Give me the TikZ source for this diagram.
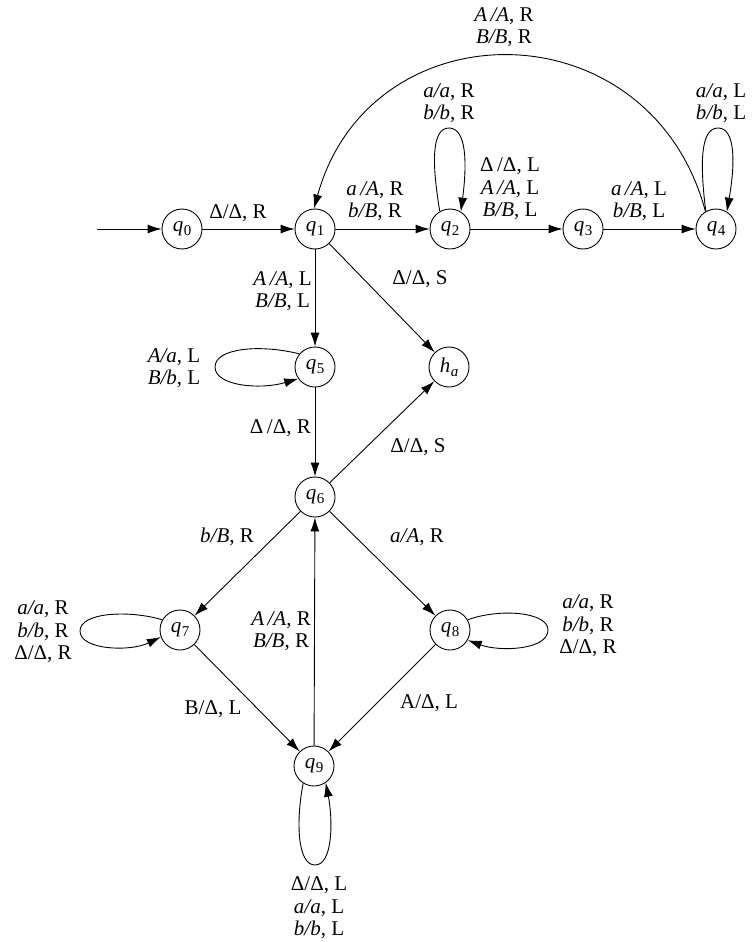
\documentclass[tikz,border=0pt]{standalone}
\usepackage{fontspec}
\setmainfont{Liberation Serif}
\usetikzlibrary{arrows.meta}
\newcommand\subx[1]{\raisebox{-0.4ex}{\fontsize{15}{15}\selectfont #1}}
\newcommand\stn[2]{\textit{#1}\kern0.5pt\subx{#2}}
\begin{document}
\begin{tikzpicture}[x=1pt,y=-1pt,
  state/.style={circle, draw, line width=0.9pt, minimum size=40pt, inner sep=0pt, font=\fontsize{21}{22}\selectfont},
  lbl/.style={align=center, inner sep=0pt, font=\fontsize{21}{22.5}\selectfont},
  edge/.style={draw, line width=0.9pt, -{Latex[length=14pt,width=9pt]}}]
\useasboundingbox (0,0) rectangle (754,942);
% states
\node[state] (q0) at (182,229) {\stn{q}{0}};
\node[state] (q1) at (315,229) {\stn{q}{1}};
\node[state] (q2) at (450,229) {\stn{q}{2}};
\node[state] (q3) at (583,229) {\stn{q}{3}};
\node[state] (q4) at (716,229) {\stn{q}{4}};
\node[state] (q5) at (315,367) {\stn{q}{5}};
\node[state] (ha) at (449,367) {\textit{h}\kern0.5pt\subx{\textit{a}}};
\node[state] (q6) at (315,497) {\stn{q}{6}};
\node[state] (q7) at (180,630) {\stn{q}{7}};
\node[state] (q8) at (450,630) {\stn{q}{8}};
\node[state] (q9) at (314,766) {\stn{q}{9}};
\coordinate (s) at (97,229);
% edges
\draw[edge] (s) -- (q0);
\draw[edge] (q0) -- (q1);
\draw[edge] (q1) -- (q2);
\draw[edge] (q2) -- (q3);
\draw[edge] (q3) -- (q4);
\draw[edge] (q4.121) .. controls (650,5) and (370,5) .. (q1.93);
\draw[edge] (q2.120) .. controls (432,165) and (431,128) .. (449,128) .. controls (467,128) and (467,165) .. (q2.58);
\draw[edge] (q4.120) .. controls (700,165) and (700,128) .. (718,128) .. controls (736,128) and (735,165) .. (q4.58);
\draw[edge] (q1) -- (q5);
\draw[edge] (q1) -- (ha);
\draw[edge] (q5.140) .. controls (260,344) and (215,348) .. (215,367) .. controls (215,386) and (260,390) .. (q5.215);
\draw[edge] (q5) -- (q6);
\draw[edge] (q6) -- (ha);
\draw[edge] (q6) -- (q7);
\draw[edge] (q6) -- (q8);
\draw[edge] (q9) -- (q6);
\draw[edge] (q7.150) .. controls (130,610) and (80,612) .. (80,631) .. controls (80,650) and (130,652) .. (q7.200);
\draw[edge] (q8.30) .. controls (500,608) and (548,612) .. (548,630) .. controls (548,650) and (500,652) .. (q8.330);
\draw[edge] (q7) -- (q9);
\draw[edge] (q8) -- (q9);
\draw[edge] (q9.238) .. controls (296,820) and (297,865) .. (315,865) .. controls (333,865) and (333,820) .. (q9.305);
% labels
\node[lbl] (l01) at (238,213) {Δ/Δ, R};
\node[lbl] (l12) at (375,201) {\textit{a\,/A}, R\\\textit{b/B}, R};
\node[lbl] (l41) at (504,27) {\textit{A\,/A}, R\\\textit{B/B}, R};
\node[lbl] (l22) at (449,103) {\textit{a/a}, R\\\textit{b/b}, R};
\node[lbl] (l44) at (721,103) {\textit{a/a}, L\\\textit{b/b}, L};
\node[lbl] (l23) at (510,189) {Δ\,/Δ, L\\\textit{A\,/A}, L\\\textit{B/B}, L};
\node[lbl] (l34) at (639,201) {\textit{a\,/A}, L\\\textit{b/B}, L};
\node[lbl, anchor=east] (l15) at (312,291) {\textit{A\,/A}, L\\\textit{B/B}, L};
\node[lbl] (l1h) at (420,279) {Δ/Δ, S};
\node[lbl] (l55) at (174,368) {\textit{A/a}, L\\\textit{B/b}, L};
\node[lbl, anchor=east] (l56) at (311,428) {Δ\,/Δ, R};
\node[lbl] (l6h) at (418,447) {Δ/Δ, S};
\node[lbl] (l67) at (227,537) {\textit{b/B}, R};
\node[lbl] (l68) at (417,537) {\textit{a/A}, R};
\node[lbl, anchor=east] (l96) at (311,631) {\textit{A\,/A}, R\\\textit{B/B}, R};
\node[lbl] (l77) at (43,632) {\textit{a/a}, R\\\textit{b/b}, R\\Δ/Δ, R};
\node[lbl] (l88) at (588,626) {\textit{a/a}, R\\\textit{b/b}, R\\Δ/Δ, R};
\node[lbl] (l79) at (213,709) {B/Δ, L};
\node[lbl] (l89) at (429,703) {A/Δ, L};
\node[lbl] (l99) at (319,908) {Δ/Δ, L\\\textit{a/a}, L\\\textit{b/b}, L};
\end{tikzpicture}
\end{document}
